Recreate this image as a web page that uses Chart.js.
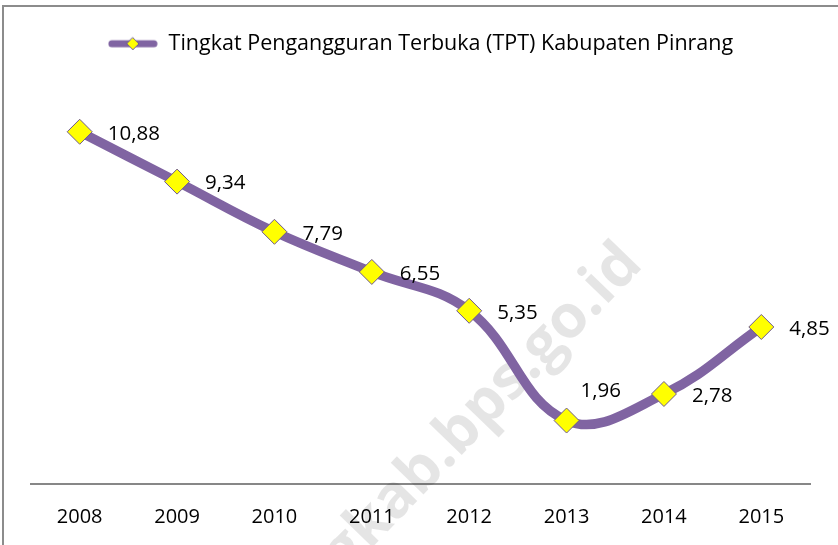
<!DOCTYPE html>
<html>
<head>
<meta charset="utf-8">
<script src="https://cdn.jsdelivr.net/npm/chart.js@4"></script>
<style>
  body { margin: 0; background: #fff; }
  #wrap { width: 838px; height: 545px; position: relative; }
</style>
</head>
<body>
<div id="wrap"><canvas id="grafik"></canvas></div>
<script>
const tahun = ['2008', '2009', '2010', '2011', '2012', '2013', '2014', '2015'];
const tpt = [10.88, 9.34, 7.79, 6.55, 5.35, 1.96, 2.78, 4.85];
const namaSeri = 'Tingkat Pengangguran Terbuka (TPT) Kabupaten Pinrang';

const warna = {
    garis: '#8064A2',
    penanda: '#FFFF00',
    tepiPenanda: '#6C5890',
    sumbu: '#878787',
    bingkai: '#8C8C8C',
    teks: '#000000'
};
const huruf = '"Open Sans", "Liberation Sans", sans-serif';

// simbol legenda: garis tebal dengan belah ketupat di tengah
function buatSimbolLegenda() {
    const c = document.createElement('canvas');
    c.width = 50;
    c.height = 16;
    const g = c.getContext('2d');
    g.strokeStyle = warna.garis;
    g.lineWidth = 7;
    g.lineCap = 'round';
    g.beginPath();
    g.moveTo(4, 8);
    g.lineTo(46, 8);
    g.stroke();
    g.fillStyle = warna.penanda;
    g.strokeStyle = warna.tepiPenanda;
    g.lineWidth = 1;
    g.beginPath();
    g.moveTo(25, 2);
    g.lineTo(31, 8);
    g.lineTo(25, 14);
    g.lineTo(19, 8);
    g.closePath();
    g.fill();
    g.stroke();
    return c;
}
const simbol = buatSimbolLegenda();

const bingkaiPlugin = {
    id: 'bingkai',
    beforeDraw(chart) {
        const ctx = chart.ctx;
        ctx.save();
        ctx.strokeStyle = warna.bingkai;
        ctx.lineWidth = 2;
        ctx.beginPath();
        ctx.moveTo(3, 545);
        ctx.lineTo(3, 6);
        ctx.lineTo(838, 6);
        ctx.stroke();
        ctx.restore();
    }
};

const watermarkPlugin = {
    id: 'watermark',
    beforeDatasetsDraw(chart) {
        const ctx = chart.ctx;
        ctx.save();
        ctx.translate(632, 254);
        ctx.rotate(-46 * Math.PI / 180);
        ctx.font = 'bold 60px ' + huruf;
        ctx.fillStyle = 'rgba(0,0,0,0.1)';
        ctx.textAlign = 'right';
        ctx.textBaseline = 'middle';
        ctx.fillText('pinrangkab.bps.go.id', 0, 0);
        ctx.restore();
    }
};

const labelPlugin = {
    id: 'labelNilai',
    afterDatasetsDraw(chart) {
        const ctx = chart.ctx;
        const meta = chart.getDatasetMeta(0);
        const geser = { 5: [14, -29] };
        ctx.save();
        ctx.font = '20.5px ' + huruf;
        ctx.fillStyle = warna.teks;
        ctx.textAlign = 'left';
        ctx.textBaseline = 'middle';
        meta.data.forEach((titik, i) => {
            const [dx, dy] = geser[i] || [28, 2];
            const teks = tpt[i].toFixed(2).replace('.', ',');
            ctx.fillText(teks, titik.x + dx, titik.y + dy);
        });
        ctx.restore();
    }
};

const legendaPlugin = {
    id: 'jarakLegenda',
    beforeInit(chart) {
        const fitAsli = chart.legend.fit;
        chart.legend.fit = function () {
            fitAsli.call(this);
            this.height += 31;
        };
    }
};

new Chart(document.getElementById('grafik'), {
    type: 'line',
    data: {
        labels: tahun,
        datasets: [{
            label: namaSeri,
            data: tpt,
            borderColor: warna.garis,
            backgroundColor: warna.penanda,
            borderWidth: 9.5,
            tension: 0.4,
            pointStyle: 'rectRot',
            pointRadius: 12.5,
            pointHoverRadius: 12.5,
            pointBackgroundColor: warna.penanda,
            pointBorderColor: warna.tepiPenanda,
            pointBorderWidth: 1
        }]
    },
    options: {
        responsive: true,
        maintainAspectRatio: false,
        animation: false,
        layout: {
            padding: { top: 23, left: 31, right: 28, bottom: -5 }
        },
        scales: {
            x: {
                offset: true,
                grid: { display: false, drawTicks: false },
                border: { display: true, color: warna.sumbu, width: 2 },
                ticks: {
                    color: warna.teks,
                    padding: 21,
                    font: { family: huruf, size: 20 }
                }
            },
            y: {
                display: false,
                min: 0,
                max: 12
            }
        },
        plugins: {
            tooltip: { enabled: false },
            legend: {
                position: 'top',
                labels: {
                    usePointStyle: true,
                    pointStyleWidth: 50,
                    padding: 10,
                    color: warna.teks,
                    font: { family: huruf, size: 21.5 },
                    generateLabels(chart) {
                        return [{
                            text: namaSeri,
                            pointStyle: simbol,
                            datasetIndex: 0,
                            hidden: false,
                            fontColor: warna.teks
                        }];
                    }
                }
            }
        }
    },
    plugins: [bingkaiPlugin, watermarkPlugin, labelPlugin, legendaPlugin]
});
</script>
</body>
</html>
